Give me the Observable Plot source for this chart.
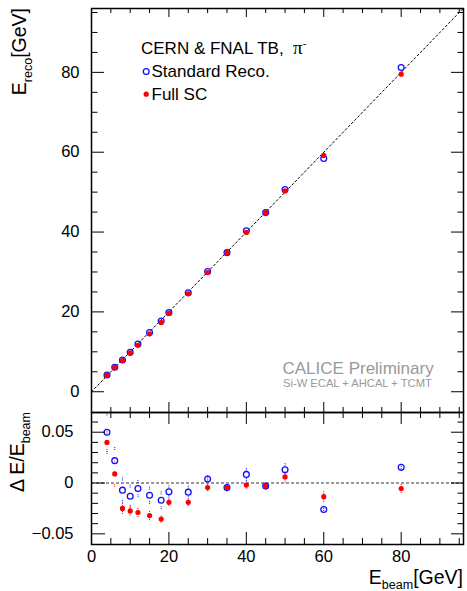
<!DOCTYPE html>
<html><head><meta charset="utf-8">
<script src="https://cdn.jsdelivr.net/npm/d3@7"></script>
<script src="https://cdn.jsdelivr.net/npm/@observablehq/plot@0.6"></script>
<style>
html,body{margin:0;padding:0;background:#fff;}
#chart{position:relative;width:467px;height:591px;overflow:hidden;font-family:"Liberation Sans",Arial,Helvetica,sans-serif;}
#chart svg{position:absolute;left:0;overflow:visible;}
</style></head><body><div id="chart"></div>
<script>
// ---- data ----
const energies      = [4, 6, 8, 10, 12, 15, 18, 20, 25, 30, 35, 40, 45, 50, 60, 80];
const recoStandard  = [4.20, 6.13, 7.94, 9.87, 11.93, 14.82, 17.69, 19.83, 24.78, 30.11, 34.84, 40.34, 44.87, 50.65, 58.44, 81.23];
const recoFullSC    = [4.16, 6.05, 7.80, 9.73, 11.65, 14.52, 17.36, 19.62, 24.53, 29.86, 34.84, 39.92, 44.87, 50.30, 59.20, 79.56];
const devStandard   = [0.050, 0.022, -0.007, -0.013, -0.0055, -0.012, -0.017, -0.0087, -0.009, 0.004, -0.0045, 0.0085, -0.003, 0.013, -0.026, 0.0154];
const devFullSC     = [0.040, 0.009, -0.025, -0.0275, -0.029, -0.032, -0.0355, -0.019, -0.019, -0.0045, -0.0045, -0.002, -0.003, 0.006, -0.0134, -0.0055];
const errStandard   = [0.018, 0.012, 0.011, 0.010, 0.007, 0.007, 0.0073, 0.005, 0.005, 0.002, 0.002, 0.005, 0.002, 0.005, 0.002, 0.002];
const errFullSC     = [0.010, 0.0115, 0.004, 0.003, 0.003, 0.003, 0.002, 0.002, 0.002, 0.002, 0.002, 0.002, 0.002, 0.004, 0.004, 0.003];

const xTicksMajor = [0, 20, 40, 60, 80];
const xTicksMinor = [5, 10, 15, 25, 30, 35, 45, 50, 55, 65, 70, 75, 85, 90, 95];
const yTopMajor   = [0, 20, 40, 60, 80];
const yTopMinor   = [5, 10, 15, 25, 30, 35, 45, 50, 55, 65, 70, 75, 85, 90, 95];
const yBotMajor   = [-0.05, 0, 0.05];
const yBotMinor   = [-0.04, -0.03, -0.02, -0.01, 0.01, 0.02, 0.03, 0.04, 0.06];
const xDomain     = [0, 96.1];
const yTopDomain  = [-5.2, 96];
const yBotDomain  = [-0.0605, 0.0694];
const refLine     = [0, 96];
const zeroLine    = [0];

const BLUE = "#1010ff", RED = "#ff0000";
const rows = energies.map((E, i) => ({E, std: recoStandard[i], sc: recoFullSC[i],
  dStd: devStandard[i], dSc: devFullSC[i], eStd: errStandard[i], eSc: errFullSC[i]}));

const capSymbol = {draw(ctx) { ctx.moveTo(0, -1.5); ctx.lineTo(0, 1.5); }};
const font = "'Liberation Sans', Arial, Helvetica, sans-serif";

function tickAxes(axis, anchor, major, minor, lMaj, lMin) {
  const f = axis === "x" ? Plot.axisX : Plot.axisY;
  return [
    f(major, {anchor, tickSize: -lMaj, fill: "none", stroke: "#000", strokeWidth: 1}),
    f(minor, {anchor, tickSize: -lMin, fill: "none", stroke: "#000", strokeWidth: 1})
  ];
}

// ---------- top panel ----------
const topPlot = Plot.plot({
  width: 467, height: 412,
  marginLeft: 91, marginRight: 4, marginTop: 8, marginBottom: 0,
  style: {fontSize: "16.5px", fontFamily: font, background: "transparent", color: "#000"},
  x: {domain: xDomain}, y: {domain: yTopDomain},
  marks: [
    Plot.line(refLine, {x: d => d, y: d => d, stroke: "#000", strokeWidth: 1, strokeDasharray: "2,2.5"}),
    Plot.dot(rows, {x: "E", y: "std", r: 2.9, stroke: BLUE, strokeWidth: 1.3, fill: "none"}),
    Plot.dot(rows, {x: "E", y: "sc", r: 2.6, fill: RED, stroke: "none"}),
    ...tickAxes("y", "left", yTopMajor, yTopMinor, 13, 6.5),
    ...tickAxes("y", "right", yTopMajor, yTopMinor, 13, 6.5),
    ...tickAxes("x", "top", xTicksMajor, xTicksMinor, 8, 4),
    ...tickAxes("x", "bottom", xTicksMajor, xTicksMinor, 10, 5),
    Plot.axisY(yTopMajor, {anchor: "left", tickSize: 0, tickPadding: 12, tickFormat: d => String(d), label: null}),
    Plot.frame({stroke: "#000", strokeWidth: 1.5}),
    // legend
    Plot.dot([0], {frameAnchor: "top-left", dx: 54.7, dy: 63, r: 2.9, stroke: BLUE, strokeWidth: 1.3, fill: "none"}),
    Plot.dot([0], {frameAnchor: "top-left", dx: 54.7, dy: 85.7, r: 2.6, fill: RED}),
    Plot.text(["Standard Reco."], {text: d => d, frameAnchor: "top-left", dx: 60, dy: 68, textAnchor: "start", lineAnchor: "bottom", fontSize: 17}),
    Plot.text(["Full SC"], {text: d => d, frameAnchor: "top-left", dx: 60, dy: 91, textAnchor: "start", lineAnchor: "bottom", fontSize: 17}),
    Plot.text(["CALICE Preliminary"], {text: d => d, frameAnchor: "top-left", dx: 191, dy: 365.3, textAnchor: "start", lineAnchor: "bottom", fontSize: 17, fill: "#999"}),
    Plot.text(["Si-W ECAL + AHCAL + TCMT"], {text: d => d, frameAnchor: "top-left", dx: 191.5, dy: 378.5, textAnchor: "start", lineAnchor: "bottom", fontSize: 11.2, fill: "#999"})
  ]
});
topPlot.style.top = "0px";

// ---------- bottom panel ----------
const botPlot = Plot.plot({
  width: 467, height: 189,
  marginLeft: 91, marginRight: 4, marginTop: 10, marginBottom: 47,
  style: {fontSize: "16.5px", fontFamily: font, background: "transparent", color: "#000"},
  x: {domain: xDomain}, y: {domain: yBotDomain},
  marks: [
    Plot.ruleY(zeroLine, {stroke: "#333", strokeWidth: 1.2, strokeDasharray: "3,2"}),
    Plot.dot(rows, {x: "E", y: d => d.dStd + d.eStd, symbol: capSymbol, stroke: BLUE, strokeWidth: 1, fill: "none", strokeDasharray: "1,1"}),
    Plot.dot(rows, {x: "E", y: d => d.dStd - d.eStd, symbol: capSymbol, stroke: BLUE, strokeWidth: 1, fill: "none", strokeDasharray: "1,1"}),
    Plot.dot(rows, {x: "E", y: d => d.dSc + d.eSc, symbol: capSymbol, stroke: RED, strokeWidth: 1, fill: "none", strokeDasharray: "1,1"}),
    Plot.dot(rows, {x: "E", y: d => d.dSc - d.eSc, symbol: capSymbol, stroke: RED, strokeWidth: 1, fill: "none", strokeDasharray: "1,1"}),
    Plot.dot(rows, {x: "E", y: "dStd", r: 2.9, stroke: BLUE, strokeWidth: 1.3, fill: "none"}),
    Plot.dot(rows, {x: "E", y: "dSc", r: 2.6, fill: RED, stroke: "none"}),
    ...tickAxes("y", "left", yBotMajor, yBotMinor, 14, 7),
    ...tickAxes("y", "right", yBotMajor, yBotMinor, 13, 6.5),
    ...tickAxes("x", "top", xTicksMajor, xTicksMinor, 11, 5),
    ...tickAxes("x", "bottom", xTicksMajor, xTicksMinor, 12, 6),
    Plot.axisY(yBotMajor, {anchor: "left", tickSize: 0, tickPadding: 18, tickFormat: d => d === 0 ? "0" : d3.format(".2f")(d), label: null}),
    Plot.axisX(xTicksMajor, {anchor: "bottom", tickSize: 0, tickPadding: 6, tickFormat: d => String(d), label: null}),
    Plot.frame({stroke: "#000", strokeWidth: 1.5})
  ]
});
botPlot.style.top = "402px";

const chart = document.getElementById("chart");
chart.appendChild(topPlot);
chart.appendChild(botPlot);

// ---------- titles with sub/superscripts ----------
const st = d3.select(topPlot);
const yt = st.append("text").attr("transform", "translate(26,8) rotate(-90)")
  .attr("text-anchor", "end").attr("fill", "#000").style("font-size", "19.5px").style("font-family", font);
yt.append("tspan").text("E");
yt.append("tspan").attr("dy", 5.5).style("font-size", "12.5px").text("reco");
yt.append("tspan").attr("dy", -5.5).text("[GeV]");

const lt = st.append("text").attr("x", 141).attr("y", 54).attr("text-anchor", "start").attr("fill", "#000")
  .style("font-size", "17px").style("font-family", font).style("white-space", "pre");
lt.append("tspan").text("CERN & FNAL TB,  ");
lt.append("tspan").style("font-family", "'Liberation Serif', 'Times New Roman', serif").style("font-size", "19px").text("π");
lt.append("tspan").attr("dy", -7).style("font-size", "11px").text("-");

const sb = d3.select(botPlot);
const dl = sb.append("text").attr("transform", "translate(24,10) rotate(-90)")
  .attr("text-anchor", "end").attr("fill", "#000").style("font-size", "19.5px").style("font-family", font).style("white-space", "pre");
dl.append("tspan").text("Δ E/E");
dl.append("tspan").attr("dy", 5.5).style("font-size", "12.5px").text("beam");

const xl = sb.append("text").attr("x", 463).attr("y", 181.5)
  .attr("text-anchor", "end").attr("fill", "#000").style("font-size", "19.5px").style("font-family", font);
xl.append("tspan").text("E");
xl.append("tspan").attr("dy", 5.5).style("font-size", "12.5px").text("beam");
xl.append("tspan").attr("dy", -5.5).text("[GeV]");
</script></body></html>
